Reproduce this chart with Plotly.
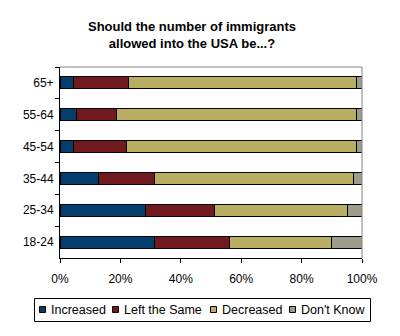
import plotly.graph_objects as go

categories = ["65+", "55-64", "45-54", "35-44", "25-34", "18-24"]
increased = [4.6, 5.6, 4.6, 12.9, 28.2, 31.2]
left_same = [18.0, 13.2, 17.4, 18.5, 23.1, 24.8]
decreased = [75.6, 79.4, 76.2, 65.7, 43.8, 34.0]
dont_know = [1.8, 1.8, 1.8, 2.9, 4.9, 10.0]
x_ticks = [0, 20, 40, 60, 80, 100]
x_tick_labels = ["0%", "20%", "40%", "60%", "80%", "100%"]
series_names = ["Increased", "Left the Same", "Decreased", "Don't Know"]
series_colors = ["#033F6E", "#701A20", "#B9AE60", "#9F9B8B"]
series_values = [increased, left_same, decreased, dont_know]

W, H = 400, 336
ML, MR, MT, MB = 60, 38, 67, 78
PW, PH = W - ML - MR, H - MT - MB


def px_x(p):
    return (p - ML) / PW


def px_y(p):
    return (H - MB - p) / PH


fig = go.Figure()
for name, vals, color in zip(series_names, series_values, series_colors):
    fig.add_trace(go.Bar(
        y=categories, x=vals, name=name, orientation="h",
        marker=dict(color=color, line=dict(color="black", width=1)),
        showlegend=False,
    ))

# custom legend (Excel-style single row box)
legend_sq_x = [39, 112, 210, 289]
shapes = [
    dict(type="line", xref="paper", yref="paper", x0=0, x1=1, y0=1, y1=1,
         line=dict(color="#808080", width=1)),
    dict(type="line", xref="paper", yref="paper", x0=1, x1=1, y0=0, y1=1,
         line=dict(color="#808080", width=1)),
    dict(type="rect", xref="paper", yref="paper",
         x0=px_x(34.5), x1=px_x(370.5), y0=px_y(298.5), y1=px_y(321.5),
         line=dict(color="black", width=1), fillcolor="white", layer="below"),
]
annotations = []
for sx, name, color in zip(legend_sq_x, series_names, series_colors):
    shapes.append(dict(type="rect", xref="paper", yref="paper",
                       x0=px_x(sx + 0.5), x1=px_x(sx + 6.5),
                       y0=px_y(306.5), y1=px_y(312.5),
                       fillcolor=color, line=dict(color="black", width=1)))
    annotations.append(dict(text=name, xref="paper", yref="paper",
                            x=px_x(sx + 10), y=px_y(310), xanchor="left", yanchor="middle",
                            showarrow=False,
                            font=dict(size=12.5, family="Liberation Sans, Arial", color="black")))

fig.update_layout(
    barmode="stack",
    bargap=0.62,
    width=W, height=H,
    margin=dict(l=ML, r=MR, t=MT, b=MB),
    paper_bgcolor="white", plot_bgcolor="white",
    font=dict(family="Liberation Sans, Arial", size=12, color="black"),
    title=dict(
        text="<b>Should the number of immigrants<br>allowed into the USA be...?</b>",
        x=0.48, xanchor="center", y=1 - 31 / H, yanchor="middle",
        font=dict(size=13, family="Liberation Sans, Arial", color="black"),
    ),
    showlegend=False,
    xaxis=dict(
        range=[0, 100], tickvals=x_ticks, ticktext=x_tick_labels,
        showgrid=False, zeroline=False,
        showline=True, linecolor="black", linewidth=1, mirror=False,
        ticks="outside", ticklen=4, tickcolor="black", ticklabelstandoff=6,
    ),
    yaxis=dict(
        autorange="reversed", showgrid=False,
        showline=True, linecolor="black", linewidth=1,
        ticks="outside", ticklen=4, tickcolor="black", tickson="boundaries",
        ticklabelstandoff=3,
    ),
    shapes=shapes,
    annotations=annotations,
)

fig.write_html("out.html")
